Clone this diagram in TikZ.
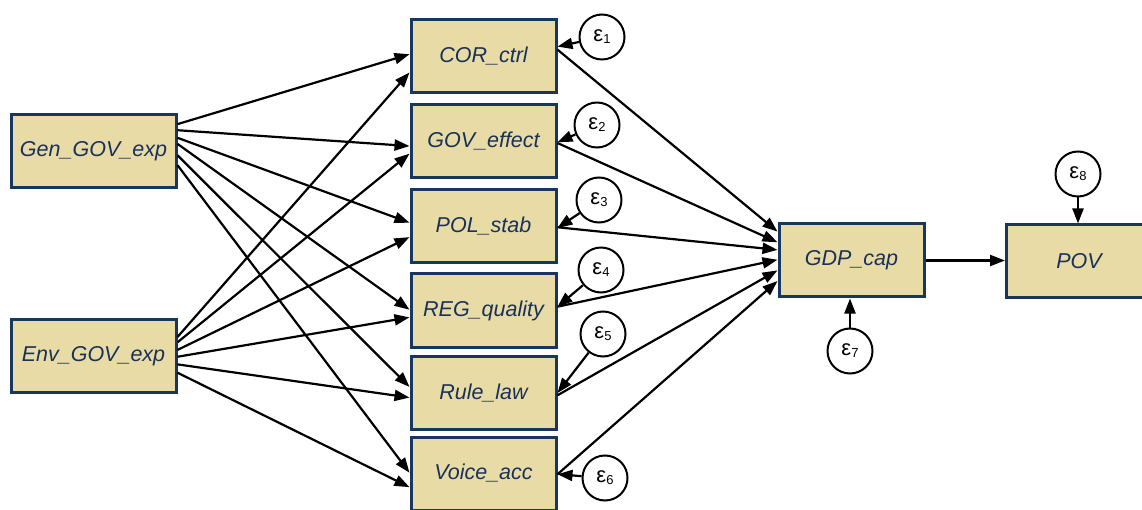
\documentclass[tikz,border=0pt]{standalone}
\usepackage{fontspec}
\newfontfamily\lab{Liberation Sans}
\usetikzlibrary{arrows.meta,calc}
\definecolor{boxfill}{RGB}{232,219,166}
\definecolor{boxline}{RGB}{23,55,94}
\definecolor{boxtext}{RGB}{25,50,90}
\tikzset{
  var/.style={draw=boxline, line width=3pt, fill=boxfill, text=boxtext,
    minimum width=145pt, minimum height=73pt, inner sep=0pt,
    font=\lab\itshape\fontsize{21.5}{21.5}\selectfont},
  wide/.style={var, minimum width=165pt},
  err/.style={circle, draw=black, line width=2pt, fill=white,
    minimum size=45pt, inner sep=0pt, font=\lab\fontsize{22}{22}\selectfont},
  path/.style={line width=2.2pt, -{Triangle[length=15pt,width=11pt]}}
}
\newcommand\eps[1]{ε\raisebox{-2pt}{\fontsize{13}{13}\selectfont #1}}
\begin{document}
\begin{tikzpicture}[x=1pt,y=-1pt]
\useasboundingbox (0,0) rectangle (1142,510);
\clip (0,0) rectangle (1142,510);

% exogenous spending variables
\node[wide] (gen) at (93.5,151.5) {Gen\_GOV\_exp};
\node[wide] (env) at (93.5,356) {Env\_GOV\_exp};

% governance indicators
\node[var] (cor) at (483.5,56.5) {COR\_ctrl};
\node[var] (gov) at (483.5,141.5) {GOV\_effect};
\node[var] (pol) at (483.5,226.5) {POL\_stab};
\node[var] (reg) at (483.5,310.5) {REG\_quality};
\node[var] (rul) at (483.5,393) {Rule\_law};
\node[var] (voi) at (483.5,473.5) {Voice\_acc};

% outcomes
\node[var] (gdp) at (851.5,260.5) {GDP\_cap};
\node[var] (pov) at (1079,261.5) {POV};

% error terms
\node[err] (e1) at (602,37) {\eps{1}};
\node[err] (e2) at (597,125) {\eps{2}};
\node[err] (e3) at (599,200) {\eps{3}};
\node[err] (e4) at (601,270) {\eps{4}};
\node[err] (e5) at (603,334) {\eps{5}};
\node[err] (e6) at (605,478) {\eps{6}};
\node[err] (e7) at (850,351) {\eps{7}};
\node[err] (e8) at (1078,174) {\eps{8}};

% spending -> governance
\foreach \t/\a/\b in {cor/0.14/0.47, gov/0.22/0.56, pol/0.32/0.45,
                     reg/0.40/0.49, rul/0.55/0.42, voi/0.68/0.49}
  \draw[path] ($(gen.north east)!\a!(gen.south east)$) -- ($(\t.north west)!\b!(\t.south west)$);
\foreach \t/\a/\b in {cor/0.25/0.71, gov/0.32/0.66, pol/0.42/0.64,
                     reg/0.51/0.59, rul/0.61/0.56, voi/0.72/0.68}
  \draw[path] ($(env.north east)!\a!(env.south east)$) -- ($(\t.north west)!\b!(\t.south west)$);

% governance -> GDP
\foreach \s/\a/\b in {cor/0.41/0.12, gov/0.52/0.26, pol/0.51/0.36,
                     reg/0.45/0.49, rul/0.53/0.63, voi/0.51/0.77}
  \draw[path] ($(\s.north east)!\a!(\s.south east)$) -- ($(gdp.north west)!\b!(gdp.south west)$);

% error terms -> indicators
\foreach \e/\t/\a in {e1/cor/0.37, e2/gov/0.51, e3/pol/0.52,
                     e4/reg/0.45, e5/rul/0.50, e6/voi/0.51}
  \draw[path] (\e) -- ($(\t.north east)!\a!(\t.south east)$);

\draw[path] (gdp.east) -- (gdp.east -| pov.west);
\draw[path] (e7) -- (gdp.south -| e7);
\draw[path] (e8) -- (pov.north -| e8);
\end{tikzpicture}
\end{document}
